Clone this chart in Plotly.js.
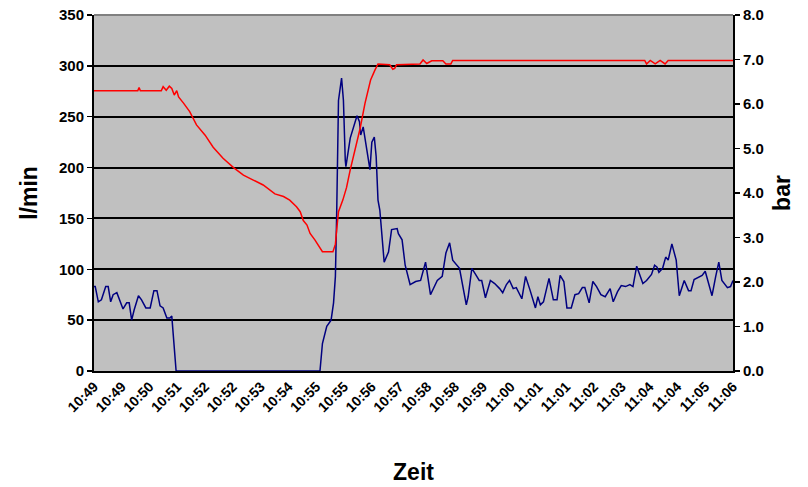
<!DOCTYPE html>
<html>
<head>
<meta charset="utf-8">
<script src="https://cdn.plot.ly/plotly-3.0.1.min.js"></script>
<style>html,body{margin:0;padding:0;background:#fff;}#chart{width:808px;height:487px;}</style>
</head>
<body>
<div id="chart"></div>
<script>
// Tick labels (one every 45 s, starting ~10:49)
var tickLabels = ["10:49","10:49","10:50","10:51","10:52","10:52","10:53","10:54","10:55","10:55","10:56","10:57",
                  "10:58","10:58","10:59","11:00","11:01","11:01","11:02","11:03","11:04","11:04","11:05","11:06"];
var tickSeconds = [0,45,90,135,180,225,270,315,360,405,450,495,540,585,630,675,720,765,810,855,900,945,990,1035];

// Flow (l/min): seconds since start, value
var flowSec = [0,2,7,12,19,23,27,31,37,41,47,53,57,61,65,72,77,84,91,97,102,107,112,118,123,126,133,
  366,370,377,384,388,391,393,396,401,404,407,408,415,420,426,430,432,436,441,444,447,450,454,457,460,
  463,470,477,482,491,493,499,504,512,521,529,537,545,556,564,570,576,581,592,597,603,606,612,619,624,628,
  634,642,649,657,662,668,673,679,684,693,699,706,712,715,719,723,728,737,744,750,755,761,766,773,779,785,
  791,795,802,808,814,821,828,836,841,848,854,861,868,873,879,884,889,895,903,908,912,915,921,926,930,936,
  943,948,956,963,967,972,979,985,990,994,1001,1007,1012,1017,1026,1031,1035];
var flowVal = [83,83,68,70,83,83,68,75,77,70,61,67,67,50,60,74,70,62,62,79,79,64,62,52,52,54,0,
  0,27,44,50,67,93,152,266,288,266,207,201,229,240,251,245,232,240,219,211,198,225,230,211,168,
  158,107,117,139,140,135,129,104,85,88,89,107,75,89,93,116,126,109,101,83,65,73,101,94,89,89,
  72,89,86,81,77,85,89,81,82,71,93,80,67,62,73,65,68,91,70,70,94,88,62,62,75,76,
  82,82,67,88,83,75,73,81,68,78,84,83,85,83,103,94,86,89,95,104,102,97,101,112,109,125,
  109,74,89,79,79,90,92,94,98,89,74,93,107,89,82,83,89];

// Pressure (bar): seconds since start, value
var presSec = [0,71,73,75,109,112,117,122,126,130,134,137,145,155,166,180,193,209,226,242,258,274,293,307,317,328,
  334,339,345,350,358,361,370,387,391,394,396,403,409,415,423,431,439,448,455,460,479,484,487,490,528,533,539,547,
  565,570,578,581,892,895,901,909,917,925,930,1035];
var presVal = [6.30,6.30,6.37,6.30,6.30,6.39,6.31,6.40,6.35,6.20,6.30,6.16,6.02,5.83,5.53,5.30,5.03,4.78,4.57,4.40,4.29,4.18,3.98,3.92,3.84,3.69,
  3.58,3.38,3.28,3.09,2.94,2.87,2.68,2.68,2.85,3.30,3.58,3.84,4.12,4.52,5.00,5.45,6.02,6.54,6.76,6.90,6.88,6.78,6.80,6.88,6.90,6.99,6.91,6.97,
  6.97,6.90,6.90,6.98,6.98,6.90,6.98,6.90,6.98,6.90,6.98,6.98];

var fontFam = '"Liberation Sans", Arial, sans-serif';

var traces = [
  {x: flowSec, y: flowVal, type: 'scatter', mode: 'lines', line: {color: '#000080', width: 1.5}, yaxis: 'y', hoverinfo: 'skip'},
  {x: presSec, y: presVal, type: 'scatter', mode: 'lines', line: {color: '#FF0000', width: 1.5}, yaxis: 'y2', hoverinfo: 'skip'}
];

var layout = {
  width: 808, height: 487,
  margin: {l: 94, r: 75, t: 15, b: 116},
  paper_bgcolor: '#FFFFFF',
  plot_bgcolor: '#C0C0C0',
  showlegend: false,
  font: {family: fontFam, color: '#000', size: 15},
  xaxis: {
    range: [0, 1035],
    tickmode: 'array', tickvals: tickSeconds, ticktext: tickLabels,
    tickangle: -45,
    tickfont: {family: fontFam, size: 14, color: '#000', weight: 'bold'},
    showgrid: false, zeroline: false,
    showline: true, linecolor: '#000', linewidth: 2,
    ticks: '',
    title: {text: 'Zeit', font: {family: fontFam, size: 23, weight: 'bold', color: '#000'}, standoff: 50},
    automargin: false,
    fixedrange: true
  },
  yaxis: {
    range: [0, 350], dtick: 50, tick0: 0,
    tickfont: {family: fontFam, size: 15, color: '#000', weight: 'bold'},
    showgrid: true, gridcolor: '#000', gridwidth: 2,
    zeroline: false,
    showline: true, linecolor: '#000', linewidth: 2,
    ticks: 'outside', ticklen: 5, tickcolor: '#000', tickwidth: 1.5,
    title: {text: 'l/min', font: {family: fontFam, size: 23, weight: 'bold', color: '#000'}, standoff: 15},
    automargin: false,
    fixedrange: true
  },
  yaxis2: {
    range: [0, 8], dtick: 1, tick0: 0, tickformat: '.1f',
    overlaying: 'y', side: 'right',
    tickfont: {family: fontFam, size: 15, color: '#000', weight: 'bold'},
    showgrid: false, zeroline: false,
    showline: true, linecolor: '#000', linewidth: 2,
    ticks: 'outside', ticklen: 5, tickcolor: '#000', tickwidth: 1.5,
    title: {text: 'bar', font: {family: fontFam, size: 23, weight: 'bold', color: '#000'}, standoff: 11},
    automargin: false,
    fixedrange: true
  },
  shapes: [
    {type: 'line', xref: 'paper', yref: 'paper', x0: 0, x1: 1, y0: 1, y1: 1, line: {color: '#808080', width: 2}}
  ]
};

Plotly.newPlot('chart', traces, layout, {staticPlot: true, displayModeBar: false});
</script>
</body>
</html>
